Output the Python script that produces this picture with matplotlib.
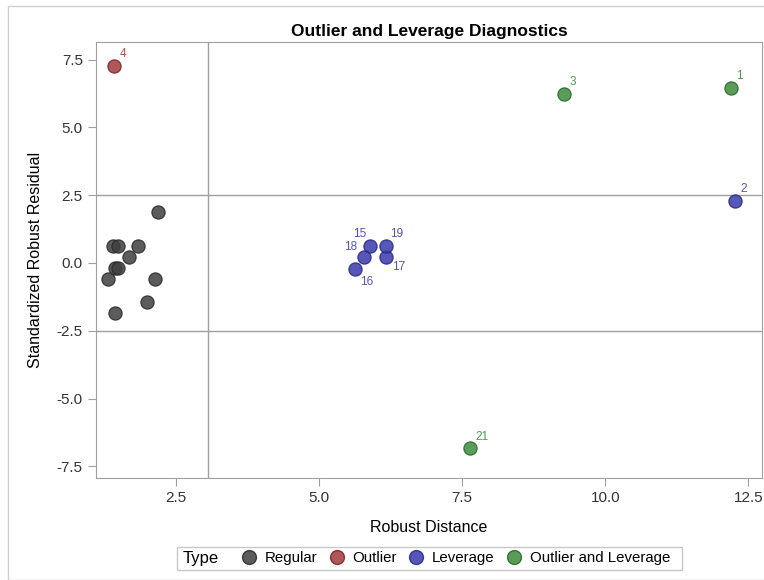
import matplotlib
matplotlib.use("Agg")
import matplotlib.pyplot as plt
from matplotlib.lines import Line2D
from matplotlib.patches import Rectangle

plt.rcParams['font.family'] = ['Liberation Sans', 'DejaVu Sans']

# robust distance / standardized robust residual per observation
obs = [1, 2, 3, 4, 5, 6, 7, 8, 9, 10, 11, 12, 13, 14, 15, 16, 17, 18, 19, 20, 21]
rd = [12.19, 12.27, 9.28, 1.42, 1.39, 1.48, 1.83, 1.68, 1.43, 1.48,
      1.31, 2.13, 2.00, 1.43, 5.89, 5.62, 6.16, 5.78, 6.17, 2.19, 7.64]
rr = [6.46, 2.29, 6.24, 7.27, 0.63, 0.63, 0.63, 0.22, -0.20, -0.20,
      -0.60, -0.60, -1.43, -1.86, 0.64, -0.21, 0.22, 0.22, 0.64, 1.87, -6.83]
types = ['Outlier and Leverage', 'Leverage', 'Outlier and Leverage', 'Outlier',
         'Regular', 'Regular', 'Regular', 'Regular', 'Regular', 'Regular',
         'Regular', 'Regular', 'Regular', 'Regular',
         'Leverage', 'Leverage', 'Leverage', 'Leverage', 'Leverage',
         'Regular', 'Outlier and Leverage']
labelled = [1, 2, 3, 4, 15, 16, 17, 18, 19, 21]

type_order = ['Regular', 'Outlier', 'Leverage', 'Outlier and Leverage']
fill = {'Regular': '#3f3f3f', 'Outlier': '#a23a3e', 'Leverage': '#3a3aad', 'Outlier and Leverage': '#3c8c3c'}
edge = {'Regular': '#2a2a2a', 'Outlier': '#7a2226', 'Leverage': '#26267f', 'Outlier and Leverage': '#276427'}
txtc = {'Regular': '#3f3f3f', 'Outlier': '#b84c4c', 'Leverage': '#5454b4', 'Outlier and Leverage': '#4c9c4c'}

# label offsets (points)
offs = {1: (4, 4, 'left', 'bottom'), 2: (4, 4, 'left', 'bottom'), 3: (4, 4, 'left', 'bottom'),
        4: (4, 4, 'left', 'bottom'), 21: (4, 4, 'left', 'bottom'),
        15: (-3, 4, 'right', 'bottom'), 19: (3, 4, 'left', 'bottom'),
        18: (-5, 3, 'right', 'bottom'), 17: (5, -3, 'left', 'top'),
        16: (4, -5, 'left', 'top')}

fig = plt.figure(figsize=(7.64, 5.8), dpi=100)
ax = fig.add_axes([96 / 764, 1 - 478 / 580, (762 - 96) / 764, (478 - 42) / 580])

ax.axvline(3.06, color='#a0a0a0', lw=1, zorder=1)
ax.axhline(2.5, color='#a0a0a0', lw=1, zorder=1)
ax.axhline(-2.5, color='#a0a0a0', lw=1, zorder=1)

for t in type_order:
    xs = [x for x, tt in zip(rd, types) if tt == t]
    ys = [y for y, tt in zip(rr, types) if tt == t]
    ax.scatter(xs, ys, s=90, c=fill[t], edgecolors=edge[t], linewidths=0.9, alpha=0.85, zorder=3)

for o, x, y, t in zip(obs, rd, rr, types):
    if o in labelled:
        dx, dy, ha, va = offs[o]
        ax.annotate(str(o), (x, y), xytext=(dx, dy), textcoords='offset points',
                    ha=ha, va=va, fontsize=8.5, color=txtc[t])

ax.set_xlim(1.10, 12.74)
ax.set_ylim(-7.93, 8.15)
ax.set_xticks([2.5, 5.0, 7.5, 10.0, 12.5])
ax.set_yticks([-7.5, -5.0, -2.5, 0.0, 2.5, 5.0, 7.5])
ax.set_xticklabels(['2.5', '5.0', '7.5', '10.0', '12.5'])
ax.set_yticklabels(['-7.5', '-5.0', '-2.5', '0.0', '2.5', '5.0', '7.5'])
for s in ax.spines.values():
    s.set_color('#a0a0a0')
ax.tick_params(colors='#a0a0a0', labelcolor='#333333', labelsize=11, length=6)

ax.set_xlabel('Robust Distance', fontsize=11.5, labelpad=11)
ax.set_ylabel('Standardized Robust Residual', fontsize=11.5, labelpad=10)
ax.set_title('Outlier and Leverage Diagnostics', fontsize=12.5, fontweight='bold', pad=4)

# legend box with inline "Type" title
fig.add_artist(Rectangle((177 / 764, 1 - 570 / 580), (682 - 177) / 764, 23 / 580,
                         transform=fig.transFigure, fill=False, edgecolor='#c8c8c8', lw=1))
fig.text(183 / 764, 1 - 558 / 580, 'Type', fontsize=12, ha='left', va='center')
handles = []
for t in type_order:
    handles.append(Line2D([], [], linestyle='none', marker='o', markersize=10,
                          markerfacecolor=fill[t], markeredgecolor=edge[t], alpha=0.85))
leg = fig.legend(handles, type_order, ncol=4, loc='center left',
                 bbox_to_anchor=(242 / 764, 1 - 558 / 580),
                 frameon=False, fontsize=10.8, borderpad=0, borderaxespad=0,
                 handletextpad=0.6, columnspacing=0.85, handlelength=0.9)

fig.add_artist(Rectangle((8 / 764, 0), 1, 1 - 6 / 580, transform=fig.transFigure,
                         fill=False, edgecolor='#d0d0d0', lw=1))

fig.savefig('out.png', dpi=100)
